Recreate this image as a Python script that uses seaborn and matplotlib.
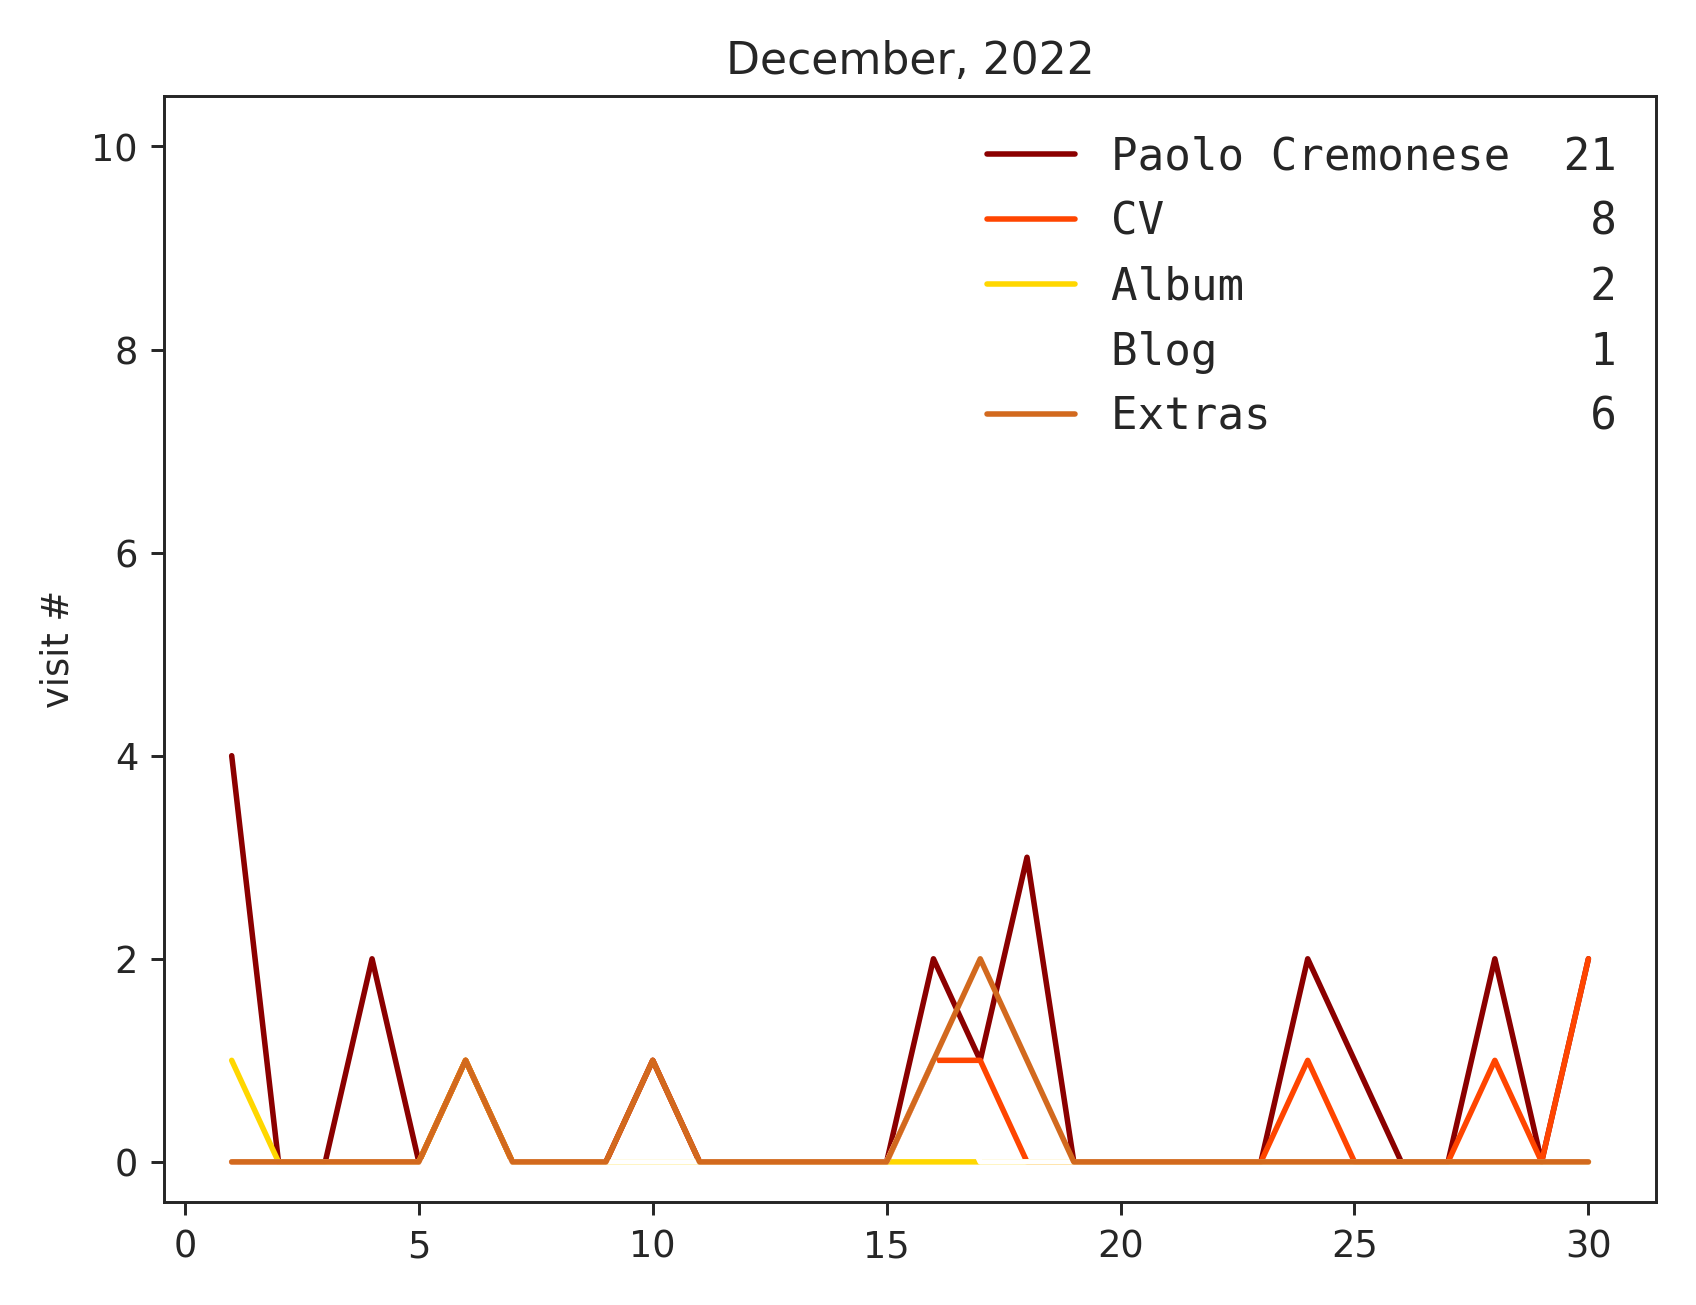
import matplotlib
matplotlib.use("Agg")
import matplotlib.pyplot as plt
import seaborn as sns
import pandas as pd

days = list(range(1, 31))
names = ["Paolo Cremonese", "CV", "Album", "Blog", "Extras"]
colors = ["darkred", "orangered", "gold", "white", "chocolate"]
paolo  = [4,0,0,2,0,1,0,0,0,1,0,0,0,0,0,2,1,3,0,0,0,0,0,2,1,0,0,2,0,2]
cv     = [0,0,0,0,0,1,0,0,0,1,0,0,0,0,0,1,1,0,0,0,0,0,0,1,0,0,0,1,0,2]
album  = [1,0,0,0,0,1,0,0,0,0,0,0,0,0,0,0,0,0,0,0,0,0,0,0,0,0,0,0,0,0]
blog   = [0,0,0,0,0,0,0,0,0,0,0,0,0,0,0,1,0,0,0,0,0,0,0,0,0,0,0,0,0,0]
extras = [0,0,0,0,0,1,0,0,0,1,0,0,0,0,0,1,2,1,0,0,0,0,0,0,0,0,0,0,0,0]
series = [paolo, cv, album, blog, extras]

sns.set_style("ticks")
plt.rcParams['font.family'] = ['DejaVu Sans']
fig, ax = plt.subplots(figsize=(6.4, 4.925), dpi=265)
for n, c, v in zip(names, colors, series):
    df = pd.DataFrame({"day": days, "visits": v})
    lab = f"{n:<16}{sum(v):>3}"
    sns.lineplot(data=df, x="day", y="visits", color=c, lw=1.5, ax=ax, label=lab)
ax.set_ylim(-0.4, 10.5)
ax.set_xlim(-0.45, 31.45)
ax.set_xticks(range(0, 31, 5))
ax.set_yticks(range(0, 11, 2))
ax.set_xlabel("")
ax.set_ylabel("visit #")
ax.set_title("December, 2022")
leg = ax.legend(frameon=False, loc="upper right", prop={"family": "DejaVu Sans Mono", "size": 12})
fig.tight_layout()
fig.savefig("out.png")
